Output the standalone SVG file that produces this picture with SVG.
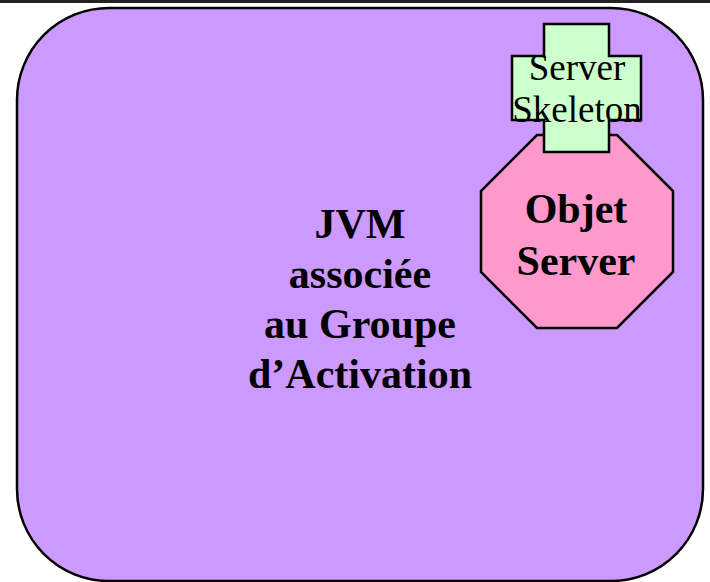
<svg xmlns="http://www.w3.org/2000/svg" width="710" height="582" viewBox="0 0 710 582">
<style>
.sh{stroke:#000;stroke-width:2.5}
.b{font-family:"Liberation Serif","Times New Roman",serif;font-weight:bold;font-size:42px;text-anchor:middle;fill:#000}
.n{font-family:"Liberation Serif","Times New Roman",serif;font-size:37px;text-anchor:middle;fill:#000}
</style>
<rect x="0" y="0" width="710" height="3" fill="#222"/>
<g id="jvm">
<rect class="sh" x="17" y="8" width="686" height="573" rx="92" ry="92" fill="#CC99FF"/>
<text class="b" x="360" y="238">JVM</text>
<text class="b" x="360" y="288">associée</text>
<text class="b" x="360" y="338">au Groupe</text>
<text class="b" x="360" y="388">d’Activation</text>
</g>
<g id="objet">
<polygon class="sh" points="537,135 617,135 673,191 673,272 617,328 537,328 481,272 481,191" fill="#FF99CC"/>
<text class="b" x="576" y="223">Objet</text>
<text class="b" x="576" y="275">Server</text>
</g>
<g id="skeleton">
<polygon class="sh" points="544,24 609,24 609,56 641,56 641,120 609,120 609,152 544,152 544,120 512,120 512,56 544,56" fill="#CCFFCC"/>
<text class="n" x="577" y="80">Server</text>
<text class="n" x="577" y="122">Skeleton</text>
</g>
<g id="connectors"/>
</svg>
